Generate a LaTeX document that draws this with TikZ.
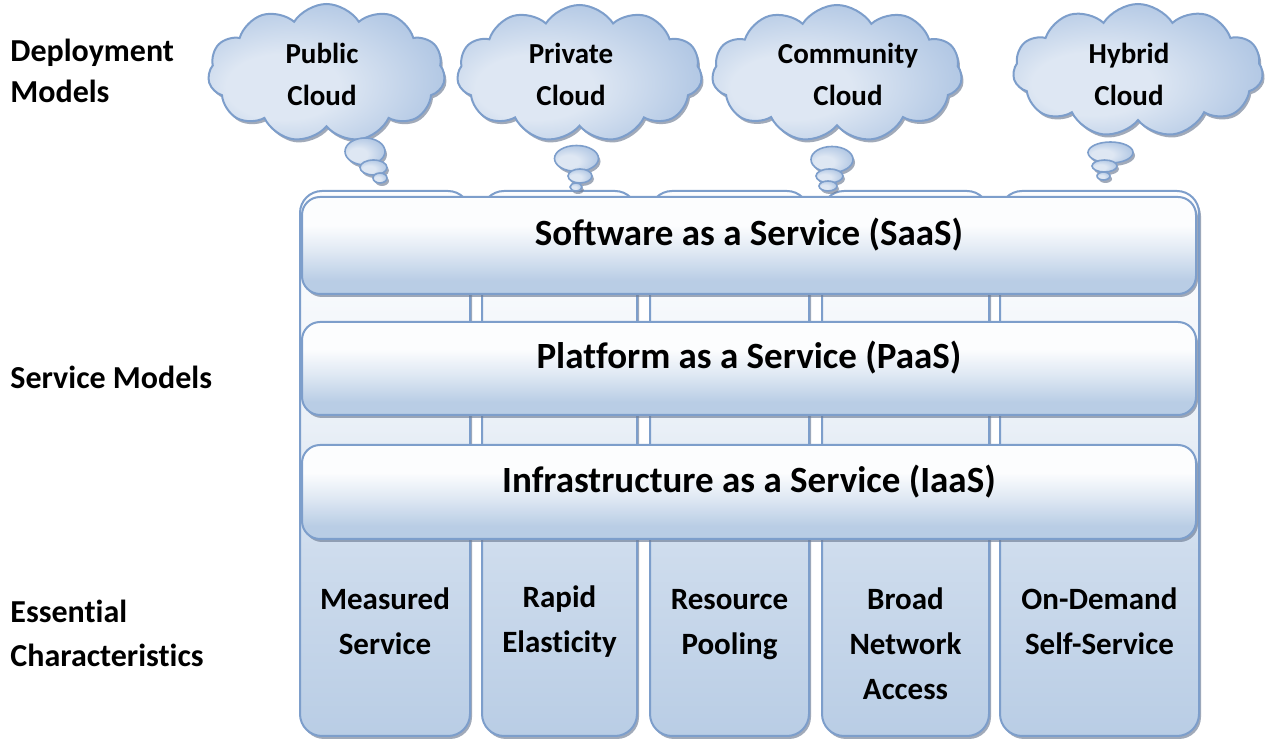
\documentclass[tikz,border=0pt]{standalone}
\usepackage{fontspec}
\setmainfont{Carlito}[Ligatures=NoCommon]
\usetikzlibrary{shapes.symbols,shadows}

\definecolor{edgeblue}{RGB}{125,158,203}
\definecolor{barblue}{RGB}{185,205,229}
\definecolor{cloudblue}{RGB}{163,189,223}
\definecolor{cloudlight}{RGB}{222,231,243}
\definecolor{shadegray}{RGB}{110,124,148}

\pgfdeclareradialshading{cloudshade}{\pgfpoint{-12bp}{-7bp}}
{color(0bp)=(cloudlight); color(12bp)=(cloudlight); color(36bp)=(cloudblue); color(50bp)=(cloudblue)}
\pgfdeclareverticalshading{colshade}{100bp}
{color(0bp)=(barblue); color(25bp)=(barblue); color(42bp)=(white!30!barblue);
 color(53bp)=(white!68!barblue); color(65bp)=(white!88!barblue); color(75bp)=(white!97!barblue);
 color(100bp)=(white!97!barblue)}
\pgfdeclareverticalshading{barshade}{100bp}
{color(0bp)=(barblue); color(32bp)=(barblue); color(47bp)=(white!55!barblue);
 color(60bp)=(white!95!barblue); color(100bp)=(white!98!barblue)}

\newcommand{\puffs}[1]
{   \foreach \px/\py/\rx/\ry in {#1}
      \draw[puff] (\px,\py) ellipse [x radius=\rx, y radius=\ry];
}

\tikzset{
  softshadow/.style={drop shadow={shadow xshift=1pt,shadow yshift=-1.5pt,opacity=.65,fill=shadegray}},
  colbox/.style={draw=edgeblue, line width=1pt, rounded corners=11pt, inner sep=0pt,
    minimum height=272.5pt, shading=colshade, softshadow},
  barbox/.style={draw=edgeblue, line width=1pt, rounded corners=9pt, inner sep=0pt,
    minimum width=447pt, shading=barshade, softshadow},
  cloudbox/.style={cloud, cloud puffs=11, cloud puff arc=115, cloud ignores aspect,
    draw=edgeblue, line width=1pt, inner sep=0pt, shading=cloudshade, softshadow},
  puff/.style={draw=edgeblue, line width=.8pt, shading=cloudshade, softshadow},
  sidelabel/.style={anchor=base west, align=left, inner sep=0pt,
    font=\fontsize{16}{20.5}\selectfont\bfseries},
  cloudtext/.style={anchor=base, align=center, inner sep=0pt,
    font=\fontsize{14.5}{21}\selectfont\bfseries},
  bartext/.style={anchor=base, inner sep=0pt, font=\fontsize{18.5}{22}\selectfont\bfseries},
  coltext/.style={anchor=base, align=center, inner sep=0pt,
    font=\fontsize{15.5}{22.5}\selectfont\bfseries}
}

\begin{document}
\begin{tikzpicture}[x=0.5pt,y=-0.5pt]
\useasboundingbox (0,0) rectangle (1265,742);

% essential characteristics (text placed by its last baseline)
\node[colbox, minimum width=85pt] (measured) at (385,463.5) {};
\node[colbox, minimum width=77.5pt] (rapid) at (559.5,463.5) {};
\node[colbox, minimum width=79.5pt] (pooling) at (729.5,463.5) {};
\node[colbox, minimum width=83.5pt] (broad) at (905.5,463.5) {};
\node[colbox, minimum width=99.5pt] (demand) at (1099.5,463.5) {};
\node[coltext] (measuredtxt) at (385,655) {Measured\\Service};
\node[coltext] (rapidtxt) at (559.5,653) {Rapid\\Elasticity};
\node[coltext] (poolingtxt) at (729.5,655) {Resource\\Pooling};
\node[coltext] (broadtxt) at (905.5,700) {Broad\\Network\\Access};
\node[coltext] (demandtxt) at (1099.5,655) {On-Demand\\Self-Service};

% service models
\node[barbox, minimum height=48.5pt] (saas) at (749,245.5) {};
\node[barbox, minimum height=46.5pt] (paas) at (749,368.5) {};
\node[barbox, minimum height=47pt] (iaas) at (749,492) {};
\node[bartext] (saastxt) at (749,246) {Software as a Service (SaaS)};
\node[bartext] (paastxt) at (749,369) {Platform as a Service (PaaS)};
\node[bartext] (iaastxt) at (749,492.5) {Infrastructure as a Service (IaaS)};

% deployment models
\node[cloudbox, minimum width=118.5pt, minimum height=69pt] (public) at (326.5,73) {};
\node[cloudbox, minimum width=122.5pt, minimum height=68.5pt] (private) at (579.5,73.5) {};
\node[cloudbox, minimum width=125pt, minimum height=68.5pt] (community) at (837,73.5) {};
\node[cloudbox, minimum width=125pt, minimum height=66.5pt] (hybrid) at (1138,70.5) {};
\puffs{365/151.5/20/13.5, 373.5/167.5/13.5/7.5, 380/178/7/5}
\puffs{576.5/158.5/22/13, 580/176/12/7, 576/187/6/4}
\puffs{832/159.5/21/13, 829.5/176/13.5/7, 828/186/9/5}
\puffs{1110.5/152.5/22.5/10.5, 1104.5/166/12.5/6, 1103.5/176/6.5/4}
\node[cloudtext] (publictxt) at (322,106) {Public\\Cloud};
\node[cloudtext] (privatetxt) at (571,106) {Private\\Cloud};
\node[cloudtext] (communitytxt) at (848,106) {Community\\Cloud};
\node[cloudtext] (hybridtxt) at (1129,106) {Hybrid\\Cloud};

% row labels
\node[sidelabel] (deploylbl) at (10,103) {Deployment\\Models};
\node[sidelabel] (servicelbl) at (10,389) {Service Models};
\node[sidelabel, font=\fontsize{16}{22}\selectfont\bfseries] (charlbl) at (10,667) {Essential\\Characteristics};

\end{tikzpicture}
\end{document}
